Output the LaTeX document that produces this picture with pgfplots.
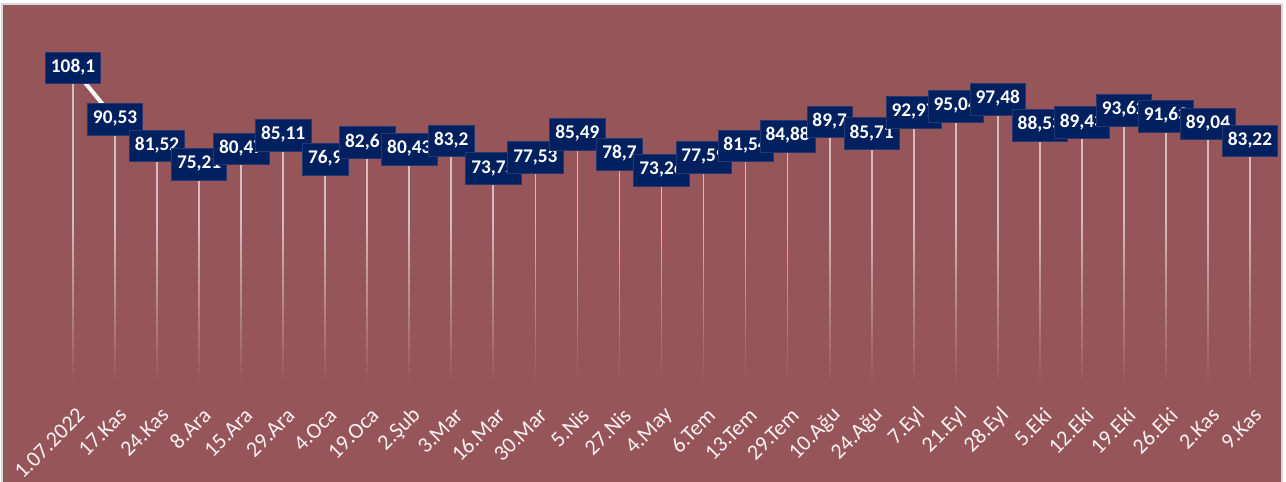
\documentclass[border=0pt]{standalone}
\usepackage{fontspec}
\setmainfont{Carlito}
\usepackage{pgfplots}
\pgfplotsset{compat=1.18}
\usetikzlibrary{fadings}
\definecolor{bgred}{RGB}{150,85,88}
\definecolor{navy}{RGB}{0,32,96}
\definecolor{navyedge}{RGB}{40,55,110}
\definecolor{framegray}{RGB}{217,217,217}
\tikzfading[name=dropfade, top color=transparent!100, bottom color=transparent!0]

\pgfplotstableread{
x y lbl
0 108.1 108,1
1 90.53 90,53
2 81.52 81,52
3 75.21 75,21
4 80.47 80,47
5 85.11 85,11
6 76.9 76,9
7 82.61 82,61
8 80.43 80,43
9 83.2 83,2
10 73.75 73,75
11 77.53 77,53
12 85.49 85,49
13 78.7 78,7
14 73.26 73,26
15 77.59 77,59
16 81.54 81,54
17 84.88 84,88
18 89.7 89,7
19 85.71 85,71
20 92.97 92,97
21 95.04 95,04
22 97.48 97,48
23 88.53 88,53
24 89.43 89,43
25 93.62 93,62
26 91.63 91,63
27 89.04 89,04
28 83.22 83,22
}\prices

\begin{document}
\begin{tikzpicture}
\useasboundingbox (0,0) rectangle (964.5pt,361.5pt);
\fill[white] (0,0) rectangle (964.5pt,361.5pt);
\fill[framegray] (0.75pt,0) rectangle (962.25pt,359.25pt);
\fill[bgred] (2.25pt,0) rectangle (960.75pt,357.75pt);
\begin{axis}[
    at={(39pt,72.75pt)}, anchor=south west,
    scale only axis, width=914.25pt, height=264pt,
    xmin=-0.5, xmax=28.5, ymin=0, ymax=120,
    clip=false,
    axis line style={draw=none},
    ytick=\empty,
    xtick={0,...,28},
    xticklabels={1.07.2022,17.Kas,24.Kas,8.Ara,15.Ara,29.Ara,4.Oca,19.Oca,2.Şub,3.Mar,16.Mar,30.Mar,5.Nis,27.Nis,4.May,6.Tem,13.Tem,29.Tem,10.Ağu,24.Ağu,7.Eyl,21.Eyl,28.Eyl,5.Eki,12.Eki,19.Eki,26.Eki,2.Kas,9.Kas},
    major tick length=0pt,
    x tick label style={xshift=6pt, yshift=-20pt, rotate=45, anchor=east, inner sep=0pt,
        text={rgb,255:red,250;green,242;blue,242}, font=\fontsize{16.5}{18}\selectfont},
]
% drop lines
\addplot[ycomb, draw=white, draw opacity=0.6, line width=1.3pt, mark=none] table[x=x, y=y] {\prices};
\fill[bgred, path fading=dropfade] (axis cs:-0.5,0) rectangle (axis cs:28.5,55);
% price line with labels
\addplot[white, line width=3pt, mark=none,
    point meta=explicit symbolic,
    nodes near coords,
    every node near coord/.append style={anchor=center, fill=navy, draw=navyedge, line width=0.5pt,
        text=white, font=\bfseries\fontsize{14.5}{16}\selectfont,
        inner xsep=4.2pt, inner ysep=6pt, text height=9.3pt, text depth=2.5pt},
] table[x=x, y=y, meta=lbl] {\prices};
\end{axis}
\end{tikzpicture}
\end{document}
